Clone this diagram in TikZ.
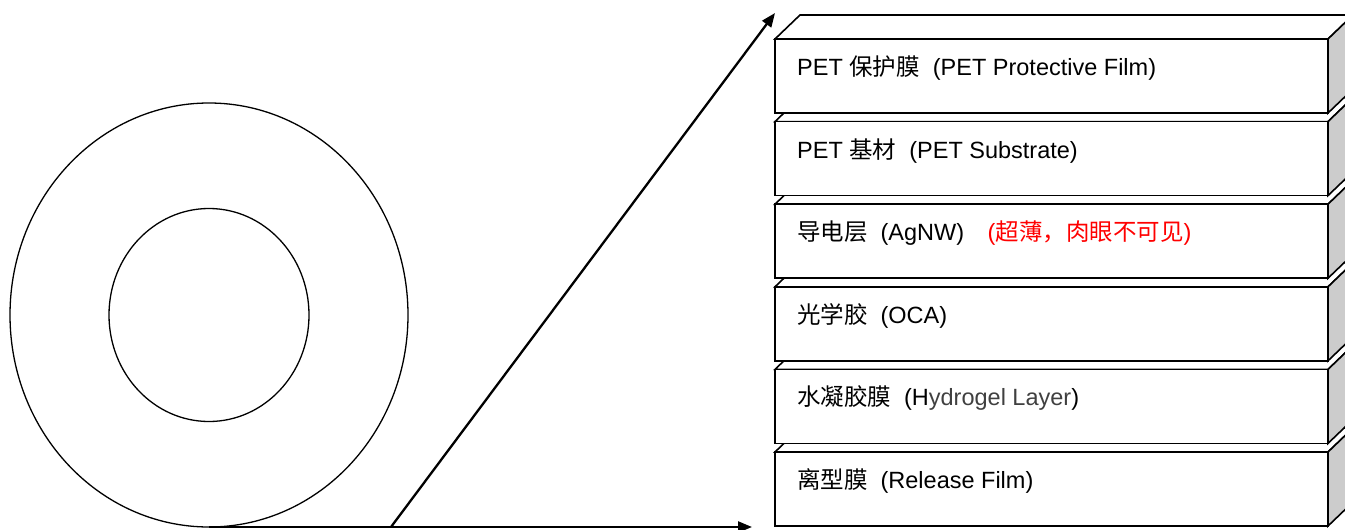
\documentclass[tikz,border=0pt]{standalone}
\usepackage{fontspec}
\setmainfont{Liberation Sans}
\newfontfamily\cjk{Noto Sans CJK SC}
\usetikzlibrary{shapes.geometric,arrows.meta}
\begin{document}
\begin{tikzpicture}[x=1pt,y=-1pt,
  rolledge/.style={ellipse, draw, line width=1.3pt, inner sep=0pt, outer sep=0pt},
  arr/.style={line width=2.3pt, -{Triangle[length=14pt,width=11pt]}},
  face/.style={draw, line width=1.6pt, line join=miter, fill=white},
  sideface/.style={draw, line width=1.6pt, line join=miter, fill=black!20},
  lbl/.style={anchor=base west, inner sep=0pt, font=\fontsize{23.5}{28}\selectfont}]
\useasboundingbox (0,0) rectangle (1345,530);
\clip (0,0) rectangle (1345,530);
% layered stack, drawn bottom to top
\foreach \i in {5,4,3,2,1,0}{
  \pgfmathsetmacro\t{39+82.6*\i}
  \pgfmathsetmacro\b{\t+74}
  \draw[face] (775,\t) -- (800,\t-24) -- (1353,\t-24) -- (1328,\t) -- cycle;
  \draw[sideface] (1328,\t) -- (1353,\t-24) -- (1353,\b-24) -- (1328,\b) -- cycle;
  \draw[face] (775,\t) rectangle (1328,\b);
}
% labels
\node[lbl] (l1) at (797,75.5) {PET {\cjk 保护膜}\hspace{0.55em}(PET Protective Film)};
\node[lbl] (l2) at (797,158.1) {PET {\cjk 基材}\hspace{0.55em}(PET Substrate)};
\node[lbl] (l3) at (797,240.7) {{\cjk 导电层}\hspace{0.55em}(AgNW)\hspace{1em}\textcolor{red}{({\cjk 超薄，肉眼不可见})}};
\node[lbl] (l4) at (797,323.3) {{\cjk 光学胶}\hspace{0.55em}(OCA)};
\node[lbl] (l5) at (797,405.9) {{\cjk 水凝胶膜}\hspace{0.55em}(H\textcolor{black!75}{ydrogel Layer})};
\node[lbl] (l6) at (797,488.5) {{\cjk 离型膜}\hspace{0.55em}(Release Film)};
% roll
\node[rolledge, minimum width=398pt, minimum height=424pt] (roll) at (209,315) {};
\node[rolledge, minimum width=200pt, minimum height=213pt] (core) at (209,315) {};
% arrows
\coordinate (hend) at (752,527);
\coordinate (foot) at (391,527);
\coordinate (tip) at (775,13);
\draw[arr] (roll.south) -- (hend);
\draw[arr] (foot) -- (tip);
\end{tikzpicture}
\end{document}
